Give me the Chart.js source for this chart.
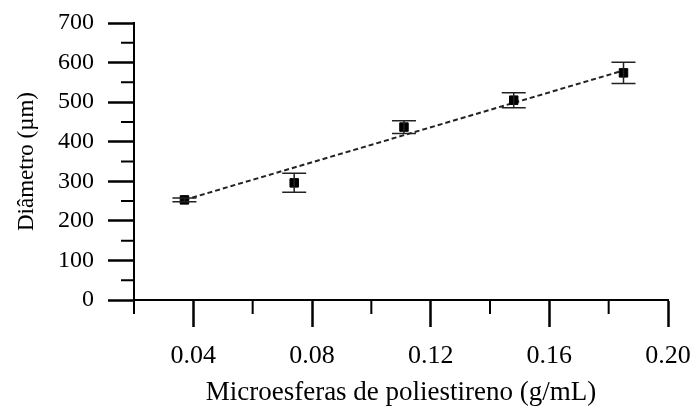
<!DOCTYPE html>
<html>
<head>
<meta charset="utf-8">
<script src="https://cdn.jsdelivr.net/npm/chart.js@4"></script>
<style>
  body { margin: 0; background: #fff; }
</style>
</head>
<body>
<canvas id="diamChart" width="693" height="412"></canvas>
<script>
// data
const concentration = [0.037, 0.074, 0.111, 0.148, 0.185];
const diameter = [253, 296, 437, 505, 574];
const diameterErr = [5, 24, 16, 19, 27];
const fitX = [0.037, 0.185];
const fitY = [253, 580];
const xMajorTicks = [0.04, 0.08, 0.12, 0.16, 0.20];
const xMinorTicks = [0.02, 0.06, 0.10, 0.14, 0.18];
const yMinorTicks = [50, 150, 250, 350, 450, 550, 650];

const serif = "'Liberation Serif', 'Times New Roman', serif";

// error bars + minor ticks, drawn through the chart scales
const extras = {
    id: 'extras',
    beforeDatasetsDraw(chart) {
        const ctx = chart.ctx;
        const xs = chart.scales.x;
        const ys = chart.scales.y;
        const area = chart.chartArea;
        ctx.save();
        ctx.strokeStyle = '#000';
        ctx.lineWidth = 2;
        ctx.beginPath();
        xMinorTicks.forEach(v => {
            const px = xs.getPixelForValue(v);
            ctx.moveTo(px, area.bottom);
            ctx.lineTo(px, area.bottom + 14);
        });
        yMinorTicks.forEach(v => {
            const py = ys.getPixelForValue(v);
            ctx.moveTo(area.left, py);
            ctx.lineTo(area.left - 13, py);
        });
        ctx.stroke();
        ctx.restore();
    },
    afterDatasetsDraw(chart) {
        const ctx = chart.ctx;
        const xs = chart.scales.x;
        const ys = chart.scales.y;
        ctx.save();
        ctx.strokeStyle = '#222';
        ctx.lineWidth = 1.5;
        concentration.forEach((c, i) => {
            const px = xs.getPixelForValue(c);
            const top = ys.getPixelForValue(diameter[i] + diameterErr[i]);
            const bot = ys.getPixelForValue(diameter[i] - diameterErr[i]);
            ctx.beginPath();
            ctx.moveTo(px, top);
            ctx.lineTo(px, bot);
            ctx.moveTo(px - 12, top);
            ctx.lineTo(px + 12, top);
            ctx.moveTo(px - 12, bot);
            ctx.lineTo(px + 12, bot);
            ctx.stroke();
        });
        ctx.restore();
    }
};

new Chart(document.getElementById('diamChart').getContext('2d'), {
    type: 'scatter',
    data: {
        datasets: [{
            label: 'Diâmetro',
            data: concentration.map((c, i) => ({ x: c, y: diameter[i] })),
            backgroundColor: '#000',
            borderColor: '#000',
            pointStyle: 'rect',
            pointRadius: 6,
            order: 1,
        }, {
            type: 'line',
            label: 'Ajuste',
            data: fitX.map((x, i) => ({ x: x, y: fitY[i] })),
            borderColor: '#222',
            borderWidth: 2,
            borderDash: [5, 3],
            pointRadius: 0,
            fill: false,
            order: 2,
        }],
    },
    options: {
        responsive: false,
        animation: false,
        layout: { padding: { top: 23, right: 0, left: 0, bottom: 3 } },
        plugins: {
            legend: { display: false },
            tooltip: { enabled: false },
        },
        scales: {
            x: {
                type: 'linear',
                min: 0.02,
                max: 0.20,
                afterBuildTicks: scale => {
                    scale.ticks = xMajorTicks.map(v => ({ value: v }));
                },
                afterFit: scale => {
                    scale.height = 109;
                    scale.paddingRight = 25;
                    scale.paddingLeft = 0;
                },
                grid: {
                    drawOnChartArea: false,
                    tickLength: 27,
                    tickWidth: 2.5,
                    tickColor: '#000',
                },
                border: { display: true, color: '#000', width: 2 },
                ticks: {
                    color: '#000',
                    padding: 14,
                    maxRotation: 0,
                    font: { family: serif, size: 26 },
                    callback: v => v.toFixed(2),
                },
                title: {
                    display: true,
                    text: 'Microesferas de poliestireno (g/mL)',
                    color: '#000',
                    font: { family: serif, size: 27 },
                    padding: { top: 0, bottom: 0 },
                },
            },
            y: {
                min: 0,
                max: 700,
                afterFit: scale => {
                    scale.width = 134;
                    scale.paddingTop = 0;
                    scale.paddingBottom = 0;
                },
                ticks: {
                    stepSize: 100,
                    color: '#000',
                    padding: 14,
                    font: { family: serif, size: 24 },
                },
                grid: {
                    drawOnChartArea: false,
                    tickLength: 26,
                    tickWidth: 2.5,
                    tickColor: '#000',
                },
                border: { display: true, color: '#000', width: 2 },
                title: {
                    display: true,
                    text: 'Diâmetro (µm)',
                    color: '#000',
                    font: { family: serif, size: 23 },
                    padding: { top: 13, bottom: 0 },
                },
            },
        },
    },
    plugins: [extras],
});
</script>
</body>
</html>
